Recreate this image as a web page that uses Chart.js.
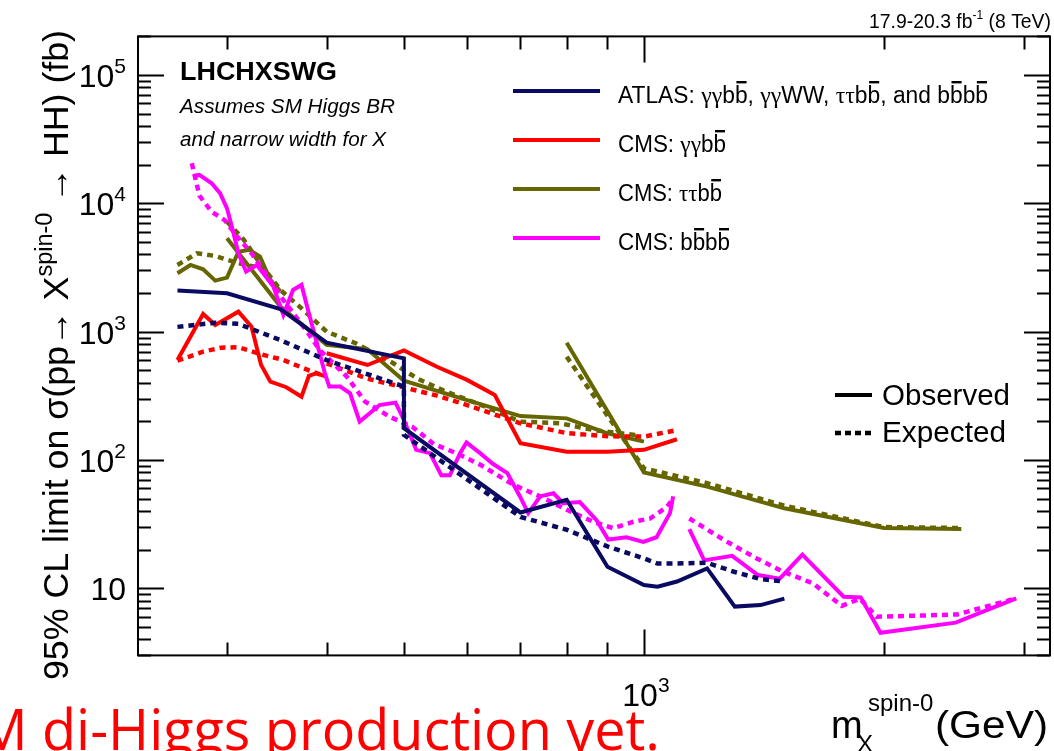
<!DOCTYPE html>
<html>
<head>
<meta charset="utf-8">
<script src="https://cdn.jsdelivr.net/npm/chart.js@4.4.1/dist/chart.umd.min.js"></script>
<style>
  html, body { margin: 0; padding: 0; background: #fff; overflow: hidden; }
  canvas { display: block; }
</style>
</head>
<body>
<canvas id="c" width="1054" height="751"></canvas>
<script>
// Resonance mass (GeV) and 95% CL upper limit (fb) for each search.
const atlasObsMass  = [260, 300, 350, 400, 500, 500, 700, 800, 900, 1000, 1040, 1100, 1200, 1300, 1400, 1500];
const atlasObsLimit = [2090, 1990, 1500, 820, 620, 177, 39, 49, 14.7, 10.6, 10.3, 11.3, 14.3, 7.2, 7.4, 8.3];
const atlasExpMass  = [260, 290, 310, 350, 400, 500, 500, 700, 800, 900, 1000, 1040, 1100, 1200, 1300, 1400, 1500];
const atlasExpLimit = [1090, 1175, 1150, 860, 600, 373, 157, 36, 28.6, 21.2, 17.1, 15.6, 15.6, 15.8, 13.4, 11.8, 11.3];

const ggbbLowObsMass  = [260, 280, 290, 310, 322, 331, 340, 356, 372, 380, 388, 400];
const ggbbLowObsLimit = [602, 1374, 1128, 1432, 1094, 551, 408, 369, 311, 452, 474, 446];
const ggbbLowExpMass  = [260, 280, 295, 310, 330, 353, 380, 400];
const ggbbLowExpLimit = [594, 699, 750, 756, 670, 602, 500, 446];
const ggbbHighObsMass  = [400, 450, 500, 550, 600, 650, 700, 800, 900, 1000, 1100];
const ggbbHighObsLimit = [679, 550, 715, 533, 421, 321, 135, 116, 116, 120, 145];
const ggbbHighExpMass  = [400, 450, 500, 550, 600, 700, 800, 900, 1000, 1100];
const ggbbHighExpLimit = [567, 430, 368, 317, 268, 193, 162, 153, 152, 171];

const ttbbLowObsMass  = [260, 270, 280, 290, 300, 310, 320, 330, 340, 350];
const ttbbLowObsLimit = [2850, 3310, 3060, 2500, 2640, 4200, 4340, 3840, 2530, 2065];
const ttbbLowExpMass  = [260, 275, 290, 310, 325];
const ttbbLowExpLimit = [3310, 4080, 3890, 3410, 3210];
const ttbbMidObsMass  = [300, 350, 400, 450, 500, 600, 700, 800, 900, 1000];
const ttbbMidObsLimit = [5340, 1570, 790, 730, 415, 293, 220, 211, 161, 139];
const ttbbMidExpMass  = [300, 315, 330, 350, 370, 400, 435, 485, 520, 565, 625, 700, 785, 865, 980];
const ttbbMidExpLimit = [7200, 5190, 3410, 2115, 1566, 1000, 812, 567, 430, 341, 268, 199, 193, 171, 156];
const ttbbHighObsMass  = [800, 1000, 1200, 1500, 2000, 2500];
const ttbbHighObsLimit = [821, 80, 62, 42, 29.5, 29];
const ttbbHighExpMass  = [800, 1000, 1200, 1500, 2000, 2500];
const ttbbHighExpLimit = [638, 86, 66, 44, 30, 29.5];

const bbbbLowObsMass  = [272, 277, 287, 294, 300, 305, 310, 317, 327, 343, 353, 363, 372, 381, 390, 398, 403, 416, 428, 440, 453, 466, 488, 500, 518, 539, 557, 571, 588, 599, 623, 647, 674, 699, 716, 741, 770, 792, 831, 872, 902, 951, 998, 1037, 1078, 1088];
const bbbbLowObsLimit = [16350, 16650, 14340, 12000, 9140, 6200, 4090, 2940, 3310, 2245, 1349, 2115, 2313, 1309, 764, 474, 373, 373, 331, 199, 231, 268, 280, 205, 120, 113, 76, 76, 113, 137, 113, 93, 79, 52, 38.5, 52, 55, 46, 47, 34, 24, 25, 23, 25, 38.5, 52];
const bbbbLowExpMass  = [271, 277, 287, 298, 309, 322, 333, 353, 378, 392, 424, 447, 480, 512, 545, 582, 625, 686, 741, 800, 864, 915, 970, 1018, 1068, 1088];
const bbbbLowExpLimit = [20500, 11500, 8600, 7400, 5500, 4080, 3025, 1766, 1000, 720, 446, 285, 217, 182, 133, 113, 91, 64, 52, 41, 33, 29.4, 33, 35, 43, 50];
const bbbbHighObsMass  = [1140, 1190, 1290, 1390, 1480, 1580, 1780, 1870, 1980, 2460, 2930];
const bbbbHighObsLimit = [28.9, 16.5, 17.9, 12.7, 11.9, 18.3, 8.6, 8.5, 4.5, 5.4, 8.35];
const bbbbHighExpMass  = [1140, 1270, 1385, 1490, 1630, 1770, 1866, 1958, 2470, 2930];
const bbbbHighExpLimit = [35, 23.1, 17.1, 13.6, 10.9, 7.3, 8.3, 6.0, 6.25, 8.35];

// Axis ranges and labelled decades
const xRange = [232, 3230];
const yRange = [3, 2e5];
const yTickExponents = [1, 2, 3, 4, 5];
const xTickExponents = [3];

const NAVY = '#0a0a62';
const RED = '#ff0000';
const OLIVE = '#666600';
const MAGENTA = '#ff00ff';
const EXP_DASH = [6, 5];

function pts(m, v) { return m.map((x, i) => ({ x: x, y: v[i] })); }
function series(label, m, v, color, expected) {
  return {
    label: label,
    data: pts(m, v),
    borderColor: color,
    backgroundColor: color,
    borderWidth: expected ? 4.5 : 4,
    borderDash: expected ? EXP_DASH : [],
    borderCapStyle: 'butt',
    borderJoinStyle: 'miter',
    showLine: true,
    pointRadius: 0,
    pointHoverRadius: 0,
    tension: 0,
    fill: false
  };
}

// dataset 0 is painted last (on top)
const datasets = [
  series('ATLAS obs', atlasObsMass, atlasObsLimit, NAVY, false),
  series('ATLAS exp', atlasExpMass, atlasExpLimit, NAVY, true),
  series('bbbb low obs', bbbbLowObsMass, bbbbLowObsLimit, MAGENTA, false),
  series('bbbb low exp', bbbbLowExpMass, bbbbLowExpLimit, MAGENTA, true),
  series('bbbb high obs', bbbbHighObsMass, bbbbHighObsLimit, MAGENTA, false),
  series('bbbb high exp', bbbbHighExpMass, bbbbHighExpLimit, MAGENTA, true),
  series('ggbb low obs', ggbbLowObsMass, ggbbLowObsLimit, RED, false),
  series('ggbb low exp', ggbbLowExpMass, ggbbLowExpLimit, RED, true),
  series('ggbb high obs', ggbbHighObsMass, ggbbHighObsLimit, RED, false),
  series('ggbb high exp', ggbbHighExpMass, ggbbHighExpLimit, RED, true),
  series('ttbb low obs', ttbbLowObsMass, ttbbLowObsLimit, OLIVE, false),
  series('ttbb low exp', ttbbLowExpMass, ttbbLowExpLimit, OLIVE, true),
  series('ttbb mid obs', ttbbMidObsMass, ttbbMidObsLimit, OLIVE, false),
  series('ttbb mid exp', ttbbMidExpMass, ttbbMidExpLimit, OLIVE, true),
  series('ttbb high obs', ttbbHighObsMass, ttbbHighObsLimit, OLIVE, false),
  series('ttbb high exp', ttbbHighExpMass, ttbbHighExpLimit, OLIVE, true)
];

const SANS = '"Liberation Sans", Arial, Helvetica, sans-serif';
const SERIF = '"Liberation Serif", "Times New Roman", serif';

// Draws a run of text pieces: {t, font, dy, bar}; returns total width
function measureRich(ctx, segs) {
  let w = 0;
  for (const s of segs) { ctx.font = s.font; w += ctx.measureText(s.t).width; }
  return w;
}
function drawRich(ctx, x, y, segs, opts) {
  opts = opts || {};
  const total = measureRich(ctx, segs);
  const sx = opts.width ? opts.width / total : (opts.sx || 1);
  let start = x;
  if (opts.align === 'right') start = x - total * sx;
  else if (opts.align === 'center') start = x - total * sx / 2;
  ctx.save();
  ctx.translate(start, y);
  ctx.scale(sx, 1);
  let cx = 0;
  for (const s of segs) {
    ctx.font = s.font;
    ctx.fillStyle = s.color || opts.color || '#000';
    ctx.textBaseline = 'alphabetic';
    ctx.textAlign = 'left';
    const w = ctx.measureText(s.t).width;
    ctx.fillText(s.t, cx, s.dy || 0);
    if (s.bar) {
      ctx.fillRect(cx + w * 0.12, (s.dy || 0) - s.barH, w * 0.8, 2.4);
    }
    cx += w;
  }
  ctx.restore();
  return total * sx;
}

const framePlugin = {
  id: 'rootFrame',
  beforeDraw(chart) {
    const ctx = chart.ctx;
    ctx.save();
    ctx.fillStyle = '#fff';
    ctx.fillRect(0, 0, chart.width, chart.height);
    ctx.restore();
  },
  afterDatasetsDraw(chart) {
    const ctx = chart.ctx;
    const a = chart.chartArea;
    const xs = chart.scales.x, ys = chart.scales.y;
    ctx.save();
    ctx.strokeStyle = '#000';
    ctx.lineWidth = 2;
    ctx.strokeRect(a.left, a.top, a.right - a.left, a.bottom - a.top);

    // inward ticks, decades long
    ctx.lineWidth = 2;
    ctx.beginPath();
    for (let e = 0; e <= 5; e++) {
      for (let m = 1; m <= 9; m++) {
        const v = m * Math.pow(10, e);
        if (v < yRange[0] || v > yRange[1]) continue;
        const py = Math.round(ys.getPixelForValue(v)) + 0.5;
        const len = m === 1 ? 26 : 13;
        ctx.moveTo(a.left, py); ctx.lineTo(a.left + len, py);
        ctx.moveTo(a.right, py); ctx.lineTo(a.right - len, py);
      }
    }
    for (let e = 2; e <= 3; e++) {
      for (let m = 1; m <= 9; m++) {
        const v = m * Math.pow(10, e);
        if (v < xRange[0] || v > xRange[1]) continue;
        const px = Math.round(xs.getPixelForValue(v)) + 0.5;
        const len = m === 1 ? 26 : 13;
        ctx.moveTo(px, a.bottom); ctx.lineTo(px, a.bottom - len);
        ctx.moveTo(px, a.top); ctx.lineTo(px, a.top + len);
      }
    }
    ctx.stroke();

    // tick labels
    const big = '32px ' + SANS, sup = '21px ' + SANS;
    for (const e of yTickExponents) {
      const py = ys.getPixelForValue(Math.pow(10, e));
      const segs = e === 1 ? [{ t: '10', font: big }]
                           : [{ t: '10', font: big }, { t: String(e), font: sup, dy: -14 }];
      drawRich(ctx, 126, py + 12, segs, { align: 'right' });
    }
    for (const e of xTickExponents) {
      const px = xs.getPixelForValue(Math.pow(10, e));
      drawRich(ctx, px + 2, 706, [{ t: '10', font: big }, { t: String(e), font: sup, dy: -14 }], { align: 'center' });
    }

    // axis titles
    const tf = '35px ' + SANS, ts = '23px ' + SANS;
    ctx.save();
    ctx.translate(68, 680);
    ctx.rotate(-Math.PI / 2);
    drawRich(ctx, 0, 0, [
      { t: '95% CL limit on \u03c3(pp\u2192 X', font: tf },
      { t: 'spin-0', font: ts, dy: -16 },
      { t: ' \u2192 HH) (fb)', font: tf }
    ], { width: 650 });
    ctx.restore();

    drawRich(ctx, 831, 738, [{ t: 'm', font: '38px ' + SANS }], {});
    drawRich(ctx, 857, 752, [{ t: 'X', font: '24px ' + SANS }], {});
    drawRich(ctx, 868, 711, [{ t: 'spin-0', font: '24px ' + SANS }], {});
    drawRich(ctx, 935, 738, [{ t: '(GeV)', font: '38px ' + SANS }], { width: 113 });

    // luminosity / energy tag
    drawRich(ctx, 1051, 28, [
      { t: '17.9-20.3 fb', font: '21px ' + SANS },
      { t: '-1', font: '13px ' + SANS, dy: -9 },
      { t: ' (8 TeV)', font: '21px ' + SANS }
    ], { align: 'right', width: 182 });

    // working-group tag
    drawRich(ctx, 180, 80, [{ t: 'LHCHXSWG', font: 'bold 26px ' + SANS }], { width: 157 });
    drawRich(ctx, 180, 113, [{ t: 'Assumes SM Higgs BR', font: 'italic 20px ' + SANS }], { width: 215 });
    drawRich(ctx, 180, 146, [{ t: 'and narrow width for X', font: 'italic 20px ' + SANS }], { width: 206 });

    // channel legend
    const lf = '23px ' + SANS;
    const g = (t) => ({ t: t, font: '24px ' + SERIF });
    const s = (t) => ({ t: t, font: lf });
    const bb = () => ({ t: 'b', font: lf, bar: true, barH: 22 });
    const entries = [
      { color: NAVY, y: 91, w: 370, segs: [s('ATLAS: '), g('\u03b3\u03b3'), s('b'), bb(), s(', '), g('\u03b3\u03b3'), s('WW, '), g('\u03c4\u03c4'), s('b'), bb(), s(', and '), s('b'), bb(), s('b'), bb()] },
      { color: RED, y: 140, w: 108, segs: [s('CMS: '), g('\u03b3\u03b3'), s('b'), bb()] },
      { color: OLIVE, y: 189, w: 104, segs: [s('CMS: '), g('\u03c4\u03c4'), s('b'), bb()] },
      { color: MAGENTA, y: 238, w: 112, segs: [s('CMS: '), s('b'), bb(), s('b'), bb()] }
    ];
    for (const en of entries) {
      ctx.strokeStyle = en.color;
      ctx.lineWidth = 4;
      ctx.setLineDash([]);
      ctx.beginPath(); ctx.moveTo(513, en.y); ctx.lineTo(600, en.y); ctx.stroke();
      drawRich(ctx, 618, en.y + 12, en.segs, { width: en.w });
    }

    // line-style key
    ctx.strokeStyle = '#000';
    ctx.lineWidth = 4;
    ctx.beginPath(); ctx.moveTo(835, 395); ctx.lineTo(872, 395); ctx.stroke();
    ctx.setLineDash([6, 4]);
    ctx.lineWidth = 4.5;
    ctx.beginPath(); ctx.moveTo(835, 433); ctx.lineTo(873, 433); ctx.stroke();
    ctx.setLineDash([]);
    drawRich(ctx, 882, 405, [{ t: 'Observed', font: '29.5px ' + SANS }], { width: 128 });
    drawRich(ctx, 882, 442, [{ t: 'Expected', font: '29.5px ' + SANS }], { width: 124 });

    // slide caption running along the bottom edge
    const cf = '56px "Open Sans", "Noto Sans", sans-serif';
    ctx.font = cf;
    const wM = ctx.measureText('M ').width;
    const wAll = ctx.measureText('M di-Higgs production yet.').width;
    const csx = (660 - 42) / (wAll - wM);
    const cx0 = 42 - csx * wM;
    ctx.save();
    ctx.translate(cx0, 750);
    ctx.scale(csx, 1);
    ctx.fillStyle = '#ff0000';
    ctx.textBaseline = 'alphabetic';
    ctx.fillText('M di-Higgs production yet.', 0, 0);
    ctx.restore();

    ctx.restore();
  }
};

new Chart(document.getElementById('c'), {
  type: 'scatter',
  data: { datasets: datasets },
  options: {
    responsive: false,
    devicePixelRatio: 1,
    animation: false,
    events: [],
    layout: { padding: { left: 138, right: 4, top: 36.4, bottom: 95.6 } },
    plugins: { legend: { display: false }, tooltip: { enabled: false } },
    scales: {
      x: { type: 'logarithmic', min: xRange[0], max: xRange[1], display: false },
      y: { type: 'logarithmic', min: yRange[0], max: yRange[1], display: false }
    }
  },
  plugins: [framePlugin]
});
</script>
</body>
</html>
